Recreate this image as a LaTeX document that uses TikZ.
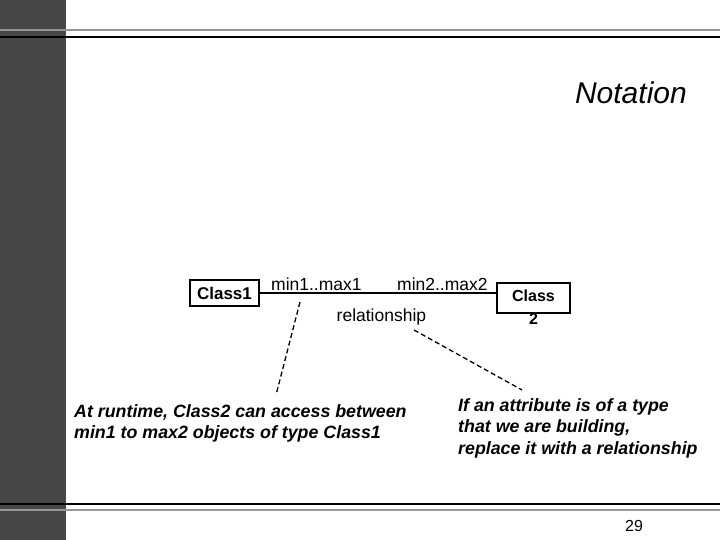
\documentclass[tikz,border=0pt]{standalone}
\usepackage{fontspec}
\setmainfont{Liberation Sans}
\definecolor{sidebar}{RGB}{71,71,71}
\definecolor{rulegray}{RGB}{150,150,150}
\tikzset{
  classbox/.style={draw, line width=1.5pt, inner sep=0pt, font=\fontsize{17}{20}\selectfont\bfseries},
  mult/.style={inner sep=0pt, anchor=base west, font=\fontsize{17.5}{20}\selectfont},
  note/.style={inner sep=0pt, anchor=north west, align=left, font=\fontsize{17.8}{21.3}\selectfont\bfseries\itshape},
  hint/.style={dash pattern=on 5pt off 3pt, line width=1.3pt}
}
\begin{document}
\begin{tikzpicture}[x=1pt, y=-1pt]
\useasboundingbox (0,0) rectangle (720,540);
% slide frame
\fill [sidebar] (0,0) rectangle (66,540);
\draw [rulegray, line width=2.2pt] (0,30)--(720,30);
\draw [line width=2.2pt] (0,37)--(720,37);
\draw [line width=2.2pt] (0,504)--(720,504);
\draw [rulegray, line width=2.2pt] (0,510)--(720,510);

\node [anchor=base east, inner sep=0pt, font=\fontsize{30}{34}\selectfont\itshape] (title) at (687,104) {Notation};

% the two classes
\node [classbox, minimum width=69pt, minimum height=26pt] (class1) at (224.5,293) {Class1};
\node [classbox, minimum width=73pt, minimum height=30pt] (class2) at (533.5,298) {};
\node [inner sep=0pt, font=\fontsize{16}{20}\selectfont\bfseries] (class2a) at (533.5,295.5) {Class};
\node [inner sep=0pt, font=\fontsize{16}{20}\selectfont\bfseries] (class2b) at (533.5,318.5) {2};
\draw [line width=1.3pt] (class1.east) -- (class1.east -| class2.west);

\node [mult] (min1) at (271,290.7) {min1..max1};
\node [mult] (min2) at (397,290.7) {min2..max2};
\node [mult] (rel) at (336.5,321.5) {relationship};

% notes
\node [note] (note1) at (74,404.5) {At runtime, Class2 can access between\\min1 to max2 objects of type Class1};
\node [note] (note2) at (458,398.5) {If an attribute is of a type\\that we are building,\\replace it with a relationship};

\coordinate (end1) at (300,302);
\coordinate (end2) at (276,395);
\coordinate (end3) at (414,330);
\coordinate (end4) at (522,390);
\draw [hint] (end1) -- (end2);
\draw [hint] (end3) -- (end4);

\node [anchor=base west, inner sep=0pt, font=\fontsize{16}{20}\selectfont] (page) at (625,531) {29};
\end{tikzpicture}
\end{document}
